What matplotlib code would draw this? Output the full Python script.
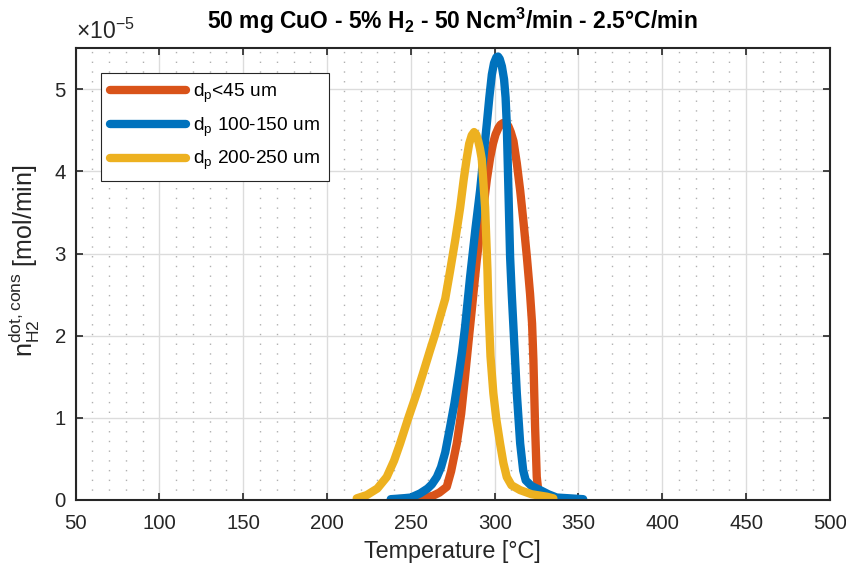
import numpy as np
import matplotlib.pyplot as plt
from matplotlib.ticker import MultipleLocator

plt.rcParams['font.family'] = ['Liberation Sans', 'DejaVu Sans']
plt.rcParams['mathtext.fontset'] = 'custom'
plt.rcParams['mathtext.rm'] = 'Liberation Sans'
plt.rcParams['mathtext.it'] = 'Liberation Sans'
plt.rcParams['mathtext.bf'] = 'Liberation Sans:bold'

# datos (T en °C, consumo en 1e-5 mol/min)
T_45 = [242, 250, 258, 263, 267, 271.4, 274, 277.4, 280, 282.3, 284.5, 286.3, 289.3, 291.3,
        293.3, 295.3, 297.3, 299, 300.5, 302.2, 303.5, 305, 306.8, 308.2, 309.6, 311.2,
        313.2, 315.2, 317.2, 319.2, 321.1, 322.3, 323.1, 324.1, 325.1, 326.2, 330, 335, 340]
n_45 = [0.01, 0.02, 0.03, 0.05, 0.09, 0.16, 0.35, 0.69, 1.05, 1.50, 1.95, 2.31, 2.92, 3.26,
        3.56, 3.90, 4.17, 4.34, 4.45, 4.53, 4.57, 4.59, 4.59, 4.55, 4.48, 4.37,
        4.10, 3.77, 3.38, 2.96, 2.51, 2.15, 1.70, 0.89, 0.28, 0.08, 0.03, 0.02, 0.01]

T_100 = [238, 245, 250, 255.5, 260, 262.5, 265.5, 268, 270.5, 273.4, 276, 278.4, 280.5,
         282.3, 285.3, 288.5, 291.3, 293.3, 295.3, 296.8, 298.3, 299.6, 301, 302, 303,
         304.3, 305.6, 306.5, 307.2, 308.2, 309.2, 310.2, 311.2, 312.2, 313.2, 315.2,
         317, 318.5, 322, 327.2, 332, 337, 345, 352.8]
n_100 = [0.01, 0.02, 0.03, 0.08, 0.14, 0.19, 0.28, 0.40, 0.58, 0.89, 1.18, 1.50, 1.80,
         2.10, 2.71, 3.30, 3.77, 4.18, 4.58, 4.90, 5.18, 5.32, 5.39, 5.40, 5.37,
         5.28, 5.12, 4.90, 4.58, 3.77, 2.96, 2.50, 2.10, 1.70, 1.30, 0.69,
         0.36, 0.24, 0.17, 0.12, 0.07, 0.03, 0.02, 0.01]

T_200 = [217.7, 223.7, 230, 235.6, 240, 243.6, 248.5, 253.5, 257.5, 261.4, 264.5, 267.4,
         270.5, 273.4, 276.5, 279.4, 281.5, 283.4, 284.8, 286.3, 287.7, 289, 290.2,
         291.2, 292.3, 294.3, 295.7, 296.2, 297.5, 299.2, 301, 303.2, 305.2, 307.2, 310,
         315.2, 322, 331.1, 335]
n_200 = [0.02, 0.06, 0.14, 0.28, 0.48, 0.69, 1.00, 1.30, 1.56, 1.82, 2.02, 2.23,
         2.45, 2.79, 3.17, 3.56, 3.90, 4.17, 4.34, 4.44, 4.48, 4.45, 4.37,
         4.28, 4.15, 3.56, 2.79, 2.40, 1.75, 1.30, 0.98, 0.69, 0.45, 0.28, 0.18,
         0.12, 0.07, 0.04, 0.02]

etiquetas = [r'd$_\mathrm{p}$<45 um', r'd$_\mathrm{p}$ 100-150 um', r'd$_\mathrm{p}$ 200-250 um']
colores = ['#D95319', '#0072BD', '#EDB120']

fig = plt.figure(figsize=(8.46, 5.73), dpi=100)
ax = fig.add_axes([0.0894, 0.1274, 0.8916, 0.7883])

for T, n, lab, c in zip([T_45, T_100, T_200], [n_45, n_100, n_200], etiquetas, colores):
    ax.plot(np.array(T), np.array(n) * 1e-5, color=c, lw=6, label=lab,
            solid_capstyle='round', solid_joinstyle='round')

ax.set_xlim(50, 500)
ax.set_ylim(0, 5.5e-5)
ax.xaxis.set_major_locator(MultipleLocator(50))
ax.xaxis.set_minor_locator(MultipleLocator(10))
ax.set_yticks([0, 1e-5, 2e-5, 3e-5, 4e-5, 5e-5])
ax.set_yticklabels(['0', '1', '2', '3', '4', '5'])
ax.text(0.0, 1.01, r'$\times\mathregular{10^{-5}}$', transform=ax.transAxes,
        fontsize=16.5, color='#262626', ha='left', va='bottom')

ax.grid(True, which='major', color='#dcdcdc', lw=1.0)
ax.grid(True, which='minor', axis='x', color='#b0b0b0', lw=1.0, ls=(0, (1, 6)))
ax.set_axisbelow(True)
ax.tick_params(which='major', direction='in', top=True, right=True, length=5,
               width=1.2, labelsize=14.7, colors='#262626')
ax.tick_params(axis='x', pad=10)
ax.tick_params(axis='y', pad=7)
ax.tick_params(which='minor', length=0)
for s in ax.spines.values():
    s.set_linewidth(1.5)
    s.set_color('#262626')

ax.set_xlabel('Temperature [°C]', fontsize=16.8, color='#262626', labelpad=5)
ax.set_ylabel(r'n$^\mathrm{dot,cons}_\mathrm{H2}$ [mol/min]', fontsize=18,
              color='#262626')
ax.yaxis.set_label_coords(-0.045, 0.53)
ax.set_title(r'50 mg CuO - 5% H$_\mathbf{2}$ - 50 Ncm$^\mathbf{3}$/min - 2.5°C/min',
             fontsize=16.5, fontweight='bold', pad=14)

leg = ax.legend(loc='upper left', bbox_to_anchor=(0.0337, 0.945), borderaxespad=0,
                fontsize=13.8, fancybox=False, edgecolor='#262626', framealpha=1,
                handlelength=4.0, borderpad=0.45, labelspacing=0.55, handletextpad=0.35)
leg.get_frame().set_linewidth(0.8)

fig.savefig('out.png', dpi=100)
